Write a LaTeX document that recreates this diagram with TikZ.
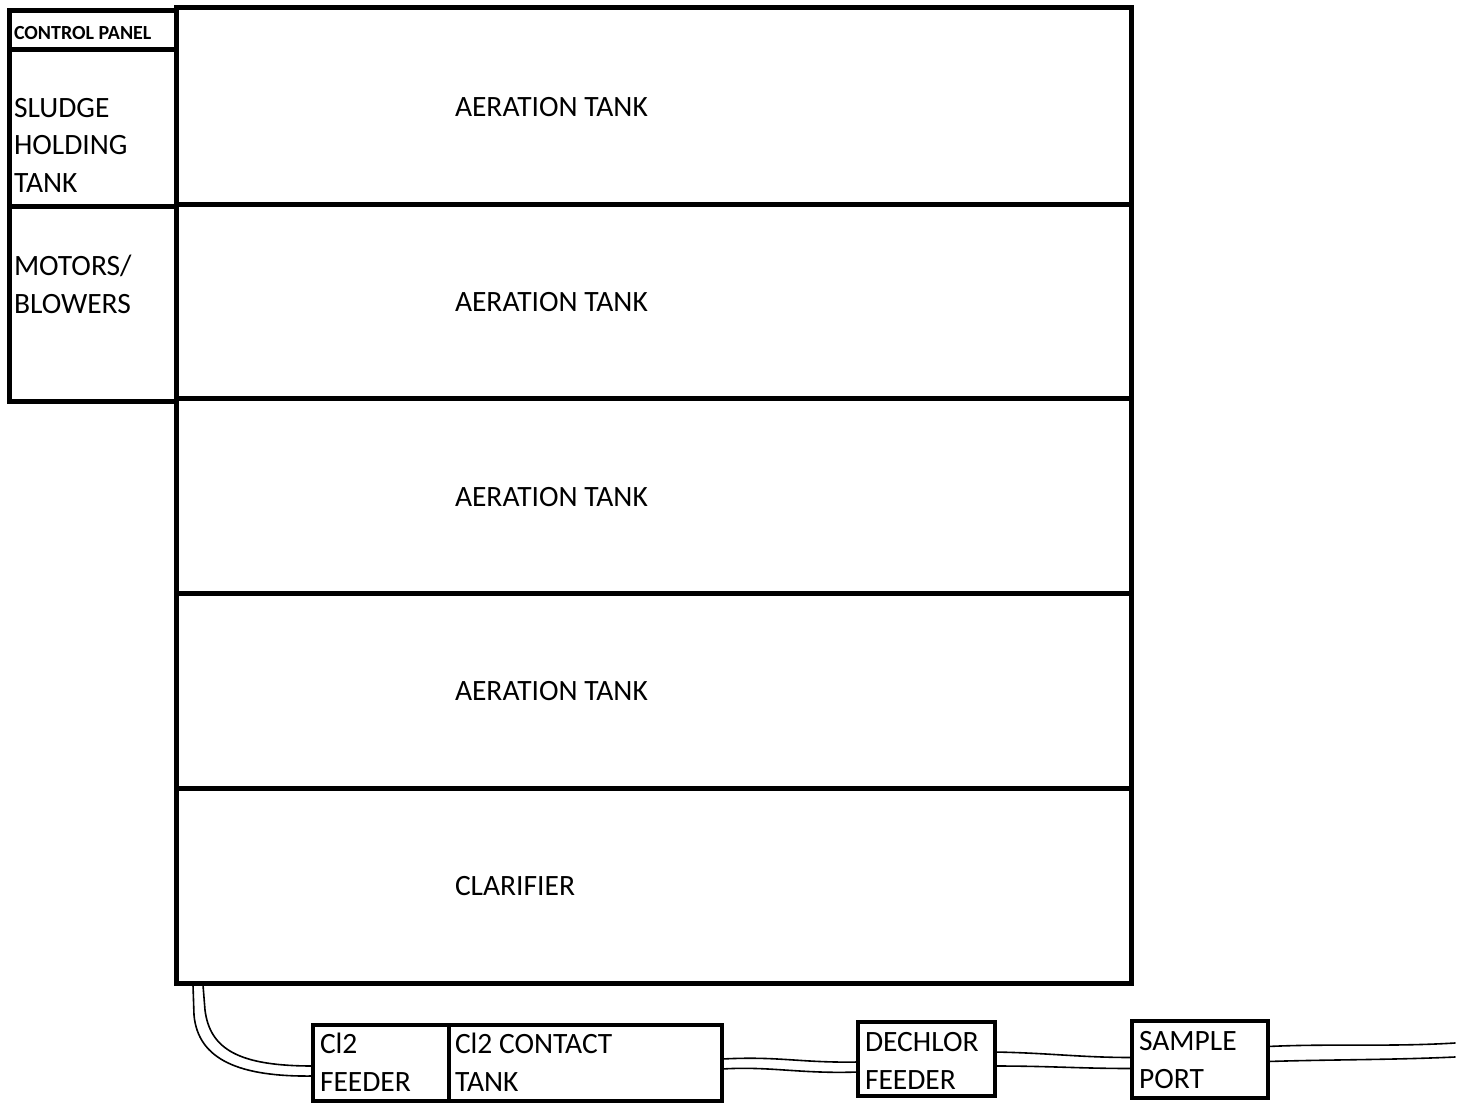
\documentclass[tikz,border=0pt]{standalone}
\usepackage{fontspec}
\setmainfont{Carlito}
\usetikzlibrary{calc}
\begin{document}
\begin{tikzpicture}[x=1pt,y=-1pt,
  box/.style={draw, line width=5pt, inner sep=0pt, outer sep=0pt},
  sbox/.style={draw, line width=4.5pt, inner sep=0pt, outer sep=0pt},
  lbl/.style={anchor=base west, inner sep=0pt, outer sep=0pt, align=left, font=\fontsize{29.5}{37.5}\selectfont},
  pipe/.style={line width=1.6pt, line join=round, line cap=round}]
\useasboundingbox (0,0) rectangle (1463,1105);
% main building
\node[box, minimum width=955, minimum height=196] (at1) at (653.5,106) {};
\node[box, minimum width=955, minimum height=194] (at2) at (653.5,301) {};
\node[box, minimum width=955, minimum height=195] (at3) at (653.5,495.5) {};
\node[box, minimum width=955, minimum height=195] (at4) at (653.5,690.5) {};
\node[box, minimum width=955, minimum height=195] (clar) at (653.5,885.5) {};
% left panel
\node[box, minimum width=167, minimum height=39] (ctrl) at (92.5,30.5) {};
\node[box, minimum width=167, minimum height=156] (sludge) at (92.5,128) {};
\node[box, minimum width=167, minimum height=195] (motors) at (92.5,303.5) {};
% bottom units
\node[sbox, minimum width=136, minimum height=76] (cl2f) at (381,1063) {};
\node[sbox, minimum width=273, minimum height=76] (tank) at (585.5,1063) {};
\node[sbox, minimum width=137, minimum height=74] (dech) at (926.5,1059) {};
\node[sbox, minimum width=136, minimum height=77] (samp) at (1200,1059.5) {};
% labels (base = baseline of last line)
\node[lbl, font=\fontsize{20}{24}\selectfont\bfseries] (tctrl) at (14,40) {CONTROL PANEL};
\node[lbl] (tsludge) at (14,192) {SLUDGE\\HOLDING\\TANK};
\node[lbl] (tmotors) at (14,313) {MOTORS/\\BLOWERS};
\node[lbl] (tat1) at (455,117) {AERATION TANK};
\node[lbl] (tat2) at (455,311.5) {AERATION TANK};
\node[lbl] (tat3) at (455,506.5) {AERATION TANK};
\node[lbl] (tat4) at (455,700.5) {AERATION TANK};
\node[lbl] (tclar) at (455,895) {CLARIFIER};
\node[lbl] (tcl2f) at (320,1091) {Cl2\\FEEDER};
\node[lbl] (ttank) at (455,1091) {Cl2 CONTACT\\TANK};
\node[lbl] (tdech) at (865,1089) {DECHLOR\\FEEDER};
\node[lbl] (tsamp) at (1139,1088) {SAMPLE\\PORT};
% pipes
\draw[pipe] ($(clar.south west)+(17,2)$) -- ($(clar.south west)+(18,32)$)
  .. controls ($(clar.south west)+(22,77)$) and ($(cl2f.west)+(-73,14)$) .. ($(cl2f.west)+(0,13)$);
\draw[pipe] ($(clar.south west)+(27,2)$) -- ($(clar.south west)+(29,27)$)
  .. controls ($(clar.south west)+(34,67)$) and ($(cl2f.west)+(-73,3)$) .. ($(cl2f.west)+(0,3)$);
\draw[pipe] ($(tank.east)+(0,-4)$) .. controls ($(tank.east)+(58,-7)$) and ($(dech.west)+(-58,4)$) .. ($(dech.west)+(0,3)$);
\draw[pipe] ($(tank.east)+(0,6)$) .. controls ($(tank.east)+(48,3)$) and ($(dech.west)+(-58,15)$) .. ($(dech.west)+(0,13)$);
\draw[pipe] ($(dech.east)+(0,-7)$) .. controls ($(dech.east)+(55,-6)$) and ($(samp.west)+(-52,-2)$) .. ($(samp.west)+(0,-2)$);
\draw[pipe] ($(dech.east)+(0,7)$) .. controls ($(dech.east)+(55,7)$) and ($(samp.west)+(-52,9)$) .. ($(samp.west)+(0,9)$);
\coordinate (outA) at (1455,1043);
\coordinate (outB) at (1455,1057);
\draw[pipe] ($(samp.east)+(0,-13)$) .. controls ($(samp.east)+(62,-16)$) and ($(outA)+(-65,4)$) .. (outA);
\draw[pipe] ($(samp.east)+(0,2)$) .. controls ($(samp.east)+(62,0)$) and ($(outB)+(-65,3)$) .. (outB);
\end{tikzpicture}
\end{document}
